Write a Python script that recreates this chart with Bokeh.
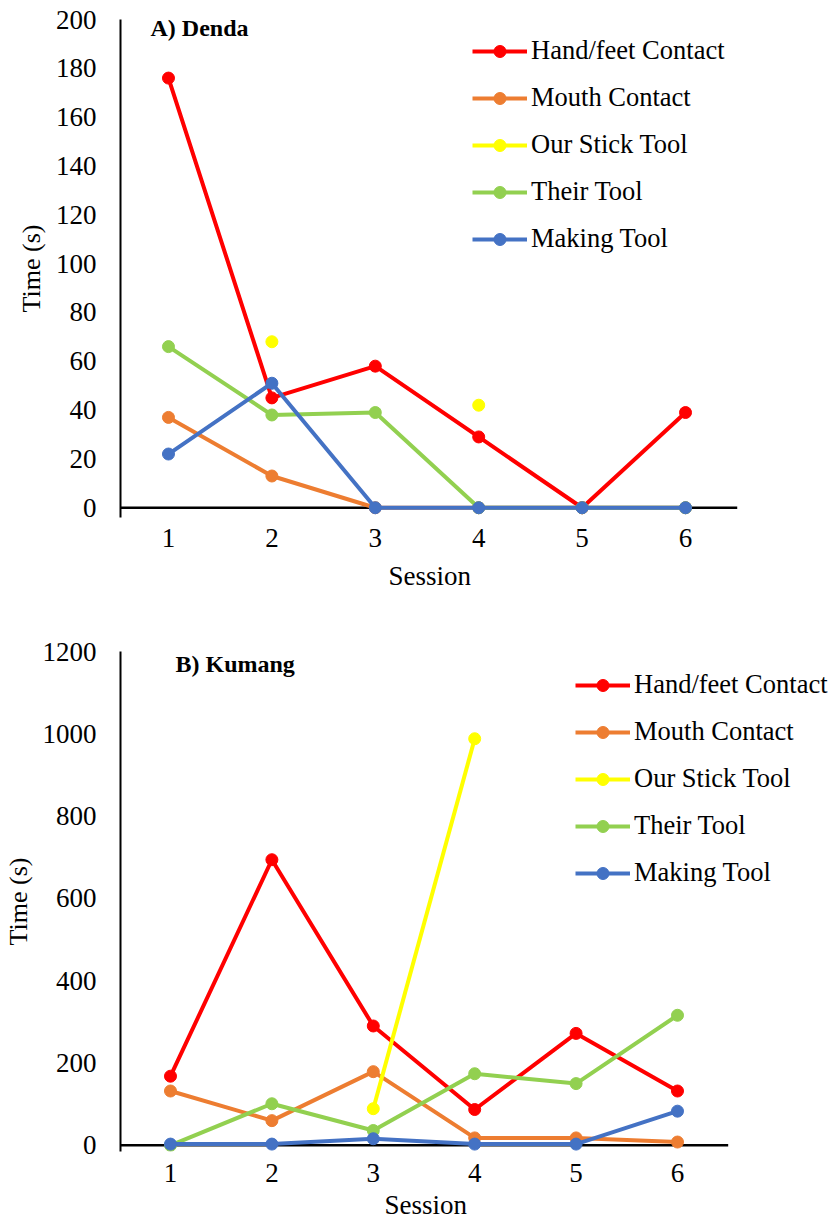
from bokeh.plotting import figure
from bokeh.models import Range1d, FixedTicker, Legend, LegendItem, Label, Title
from bokeh.layouts import column
from bokeh.embed import file_html
from bokeh.resources import INLINE

nan = float("nan")

sessions = [1, 2, 3, 4, 5, 6]
series_names = ["Hand/feet Contact", "Mouth Contact", "Our Stick Tool", "Their Tool", "Making Tool"]
colors = ["#FF0000", "#ED7D31", "#FFFF00", "#92D050", "#4472C4"]

# A) Denda
denda_hand = [176, 45, 58, 29, 0, 39]
denda_mouth = [37, 13, 0, 0, 0, 0]
denda_stick = [nan, 68, nan, 42, nan, nan]
denda_their = [66, 38, 39, 0, 0, 0]
denda_making = [22, 51, 0, 0, 0, 0]
denda_yticks = [0, 20, 40, 60, 80, 100, 120, 140, 160, 180, 200]

# B) Kumang
kumang_hand = [168, 694, 290, 87, 272, 132]
kumang_mouth = [132, 60, 179, 18, 18, 8]
kumang_stick = [nan, nan, 89, 988, nan, nan]
kumang_their = [0, 101, 36, 174, 150, 316]
kumang_making = [3, 3, 16, 3, 3, 83]
kumang_yticks = [0, 200, 400, 600, 800, 1000, 1200]

FONT = "Liberation Serif"


def make_panel(title, series, yticks, ypad, xr, height, bt, bb,
               title_xy, legend_xy, xstand, session_offset, session_standoff):
    p = figure(width=830, height=height, output_backend="svg", toolbar_location=None,
               x_range=Range1d(*xr), y_range=Range1d(-ypad, yticks[-1]),
               min_border_left=120, min_border_top=bt, min_border_right=0, min_border_bottom=bb)
    p.outline_line_color = None
    p.xgrid.grid_line_color = None
    p.ygrid.grid_line_color = None
    p.background_fill_color = None
    p.border_fill_color = None

    p.xaxis.ticker = FixedTicker(ticks=sessions)
    p.yaxis.ticker = FixedTicker(ticks=yticks)
    for ax in (p.xaxis[0], p.yaxis[0]):
        ax.major_tick_in = 0
        ax.major_tick_out = 0
        ax.minor_tick_in = 0
        ax.minor_tick_out = 0
        ax.major_label_text_font = FONT
        ax.major_label_text_font_size = "27px"
        ax.major_label_text_color = "#000000"
        ax.axis_label_text_font = FONT
        ax.axis_label_text_font_style = "normal"
        ax.axis_label_text_color = "#000000"
    p.xaxis.axis_line_color = None
    p.xaxis.major_label_standoff = xstand
    p.yaxis.axis_line_color = "#000000"
    p.yaxis.axis_line_width = 2
    p.yaxis.major_label_standoff = 24
    p.yaxis.axis_label = "Time (s)"
    p.yaxis.axis_label_text_font_size = "26px"
    p.yaxis.axis_label_standoff = 7

    # x-axis title, placed under the six session categories
    p.add_layout(Title(text="Session", align="left", offset=session_offset,
                       standoff=session_standoff, vertical_align="top",
                       text_font=FONT, text_font_size="27px", text_font_style="normal",
                       text_color="#000000"), "below")

    # horizontal axis line, spanning the six session categories
    p.segment(x0=[xr[0]], y0=[0], x1=[6.5], y1=[0], line_color="#000000", line_width=2.5)

    items = []
    for name, vals, col in zip(series_names, series, colors):
        lr = p.line(sessions, vals, line_color=col, line_width=4)
        sr = p.scatter(sessions, vals, size=12, fill_color=col, line_color=col)
        items.append(LegendItem(label=name, renderers=[lr, sr]))

    leg = Legend(items=items, location=legend_xy, padding=0, margin=0, spacing=16,
                 glyph_width=55, glyph_height=30, label_height=30, label_standoff=4,
                 label_text_font=FONT, label_text_font_size="26.5px", label_text_color="#000000",
                 border_line_color=None, background_fill_alpha=0)
    p.add_layout(leg)

    p.add_layout(Label(x=title_xy[0], y=title_xy[1], x_units="screen", y_units="screen",
                       text=title, text_font=FONT, text_font_style="bold",
                       text_font_size="24px", text_baseline="middle", text_color="#000000"))
    return p


pA = make_panel("A) Denda",
                [denda_hand, denda_mouth, denda_stick, denda_their, denda_making],
                denda_yticks, 4, (0.536, 7.402), 604, 19, 87,
                (30, 490), (352, 263), 11, 268, 22)
pB = make_panel("B) Kumang",
                [kumang_hand, kumang_mouth, kumang_stick, kumang_their, kumang_making],
                kumang_yticks, 15, (0.507, 7.509), 622, 47, 75,
                (55, 488), (455, 263), 12, 264, 10)

layout = column(pA, pB, spacing=0)
open("out.html", "w").write(file_html(layout, INLINE))
